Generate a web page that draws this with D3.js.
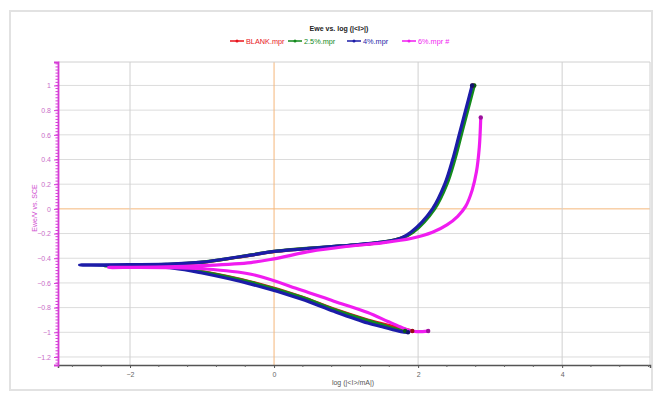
<!DOCTYPE html>
<html>
<head>
<meta charset="utf-8">
<script src="https://cdn.jsdelivr.net/npm/d3@7"></script>
<style>
  body { margin: 0; background: #fff; }
  svg { font-family: "Liberation Sans", Arial, sans-serif; }
</style>
</head>
<body>
<svg id="chart" width="659" height="394"></svg>
<script>
// legend labels and colours
const seriesNames = ['BLANK.mpr', '2.5%.mpr', '4%.mpr', '6%.mpr #'];
const seriesColors = ['#e8141c', '#138a1c', '#1c1ca8', '#f01cf0'];

// [log |I|, Ewe], scan order: cathodic end -> Ecorr -> anodic end
const blank = [
  [1.92, -0.99], [1.75, -0.965], [1.6, -0.945], [1.3, -0.9], [0.83, -0.812], [0.375, -0.712],
  [-0.32, -0.592], [-1.0, -0.508], [-1.4, -0.474], [-1.8, -0.462], [-1.4, -0.452],
  [-1.0, -0.434], [-0.5, -0.392], [0.0, -0.347], [0.93, -0.302], [1.5, -0.272],
  [1.77, -0.237], [1.92, -0.19], [2.21, 0.0], [2.38, 0.2], [2.49, 0.4], [2.58, 0.6],
  [2.67, 0.8], [2.76, 1.0]
];
const pct25 = [
  [1.82, -0.99], [1.7, -0.975], [1.5, -0.94], [1.3, -0.905], [0.83, -0.815], [0.375, -0.715],
  [-0.32, -0.595], [-1.0, -0.51], [-1.4, -0.475], [-1.9, -0.462], [-2.35, -0.462], [-1.9, -0.455],
  [-1.4, -0.448], [-1.0, -0.432], [-0.5, -0.39], [0.0, -0.345], [0.93, -0.3], [1.5, -0.27],
  [1.78, -0.235], [1.93, -0.19], [2.23, 0.0], [2.4, 0.2], [2.51, 0.4], [2.6, 0.6],
  [2.69, 0.8], [2.78, 1.0]
];
const pct4 = [
  [1.86, -1.0], [1.76, -0.995], [1.5, -0.955], [1.3, -0.925], [0.83, -0.83], [0.375, -0.73],
  [-0.32, -0.61], [-1.0, -0.52], [-1.4, -0.48], [-2.0, -0.46], [-2.7, -0.455], [-2.0, -0.452],
  [-1.5, -0.448], [-1.0, -0.432], [-0.5, -0.39], [-0.32, -0.375], [0.0, -0.345], [0.93, -0.3],
  [1.5, -0.27], [1.76, -0.237], [1.9, -0.19], [2.2, 0.0], [2.37, 0.2], [2.48, 0.4],
  [2.57, 0.6], [2.66, 0.8], [2.75, 1.0]
];
const pct6 = [
  [2.14, -0.99], [1.98, -0.995], [1.88, -0.985], [1.75, -0.955], [1.58, -0.912], [1.3, -0.84],
  [0.83, -0.748], [0.375, -0.657], [-0.32, -0.53], [-1.0, -0.485], [-1.5, -0.476], [-2.3, -0.475],
  [-1.5, -0.47], [-1.0, -0.46], [-0.32, -0.435], [0.0, -0.405], [0.5, -0.345], [1.0, -0.305],
  [1.5, -0.275], [1.9, -0.24], [2.2, -0.19], [2.4, -0.13], [2.55, -0.06], [2.66, 0.02],
  [2.75, 0.15], [2.81, 0.3], [2.85, 0.5], [2.87, 0.74]
];
const allSeries = [blank, pct25, pct4, pct6];

const xTicks = [-2, 0, 2, 4];
const yTicks = [-1.2, -1, -0.8, -0.6, -0.4, -0.2, 0, 0.2, 0.4, 0.6, 0.8, 1];

const svg = d3.select('#chart');
const plotL = 58, plotR = 650, plotT = 62, plotB = 365;

const x = d3.scaleLinear().domain([-3, 5.22]).range([plotL, plotR]);
const y = d3.scaleLinear().domain([-1.265, 1.19]).range([plotB, plotT]);

// outer frame
svg.append('rect')
  .attr('x', 10).attr('y', 11).attr('width', 642).attr('height', 379)
  .attr('fill', 'none').attr('stroke', '#e2e2e2').attr('stroke-width', 2);

// grid
svg.append('g').selectAll('line').data(yTicks).join('line')
  .attr('x1', plotL).attr('x2', plotR)
  .attr('y1', d => y(d)).attr('y2', d => y(d))
  .attr('stroke', d => d === 0 ? '#f5b77a' : '#dcdcdc').attr('stroke-width', 1);
svg.append('g').selectAll('line').data(xTicks).join('line')
  .attr('x1', d => x(d)).attr('x2', d => x(d))
  .attr('y1', plotT).attr('y2', plotB)
  .attr('stroke', d => d === 0 ? '#f5b77a' : '#d0d0d0').attr('stroke-width', 1);
// plot border top / right
svg.append('path')
  .attr('d', `M${plotL},${plotT}H${plotR}V${plotB}`)
  .attr('fill', 'none').attr('stroke', '#d0d0d0');

// curves
const line = d3.line()
  .x(d => x(d[0])).y(d => y(d[1]))
  .curve(d3.curveCatmullRom.alpha(0.5));
svg.append('g').selectAll('path').data(allSeries).join('path')
  .attr('d', line)
  .attr('fill', 'none')
  .attr('stroke', (d, i) => seriesColors[i])
  .attr('stroke-width', 3.2)
  .attr('stroke-linejoin', 'round').attr('stroke-linecap', 'round');
// end markers
svg.append('g').selectAll('circle')
  .data(allSeries.flatMap((s, i) => [[s[0], i], [s[s.length - 1], i]]))
  .join('circle')
  .attr('cx', d => x(d[0][0])).attr('cy', d => y(d[0][1])).attr('r', 2.2)
  .attr('fill', d => d3.color(seriesColors[d[1]]).darker(1.2));

// x axis
const xAxis = d3.axisBottom(x).tickValues(xTicks).tickSize(3).tickFormat(d3.format('d'));
const gx = svg.append('g').attr('transform', `translate(0,${plotB})`).call(xAxis);
gx.select('.domain').attr('stroke', '#555').attr('stroke-width', 1.5);
gx.selectAll('.tick line').attr('stroke', '#555');
gx.selectAll('text').attr('fill', '#666').attr('font-size', 7).attr('dy', '0.9em');
const xMinor = d3.range(-2.8, 5.21, 0.4).filter(v => !xTicks.some(t => Math.abs(t - v) < 1e-6));
gx.append('g').selectAll('line').data(xMinor).join('line')
  .attr('x1', d => x(d)).attr('x2', d => x(d)).attr('y1', 0).attr('y2', 2)
  .attr('stroke', '#666');

// y axis
const yAxis = d3.axisLeft(y).tickValues(yTicks).tickSize(4).tickFormat(d => d3.format('')(+d.toFixed(1)));
const gy = svg.append('g').attr('transform', `translate(${plotL},0)`).call(yAxis);
gy.select('.domain').attr('stroke', '#d63cd6').attr('stroke-width', 1.8);
gy.selectAll('.tick line').attr('stroke', '#d63cd6');
gy.selectAll('text').attr('fill', '#c86ec8').attr('font-size', 7);
const yMinor = d3.range(-1.25, 1.19, 0.025);
gy.append('g').selectAll('line').data(yMinor).join('line')
  .attr('x1', -2.5).attr('x2', 0.8).attr('y1', d => y(d)).attr('y2', d => y(d))
  .attr('stroke', '#d63cd6').attr('stroke-width', 1);

// labels
svg.append('text').attr('x', 353).attr('y', 385).attr('text-anchor', 'middle')
  .attr('font-size', 7).attr('fill', '#555').text('log (|<I>/mA|)');
svg.append('text').attr('transform', 'translate(37,208) rotate(-90)')
  .attr('text-anchor', 'middle').attr('font-size', 7).attr('fill', '#d050d0')
  .text('Ewe/V vs. SCE');
svg.append('text').attr('x', 339).attr('y', 31).attr('text-anchor', 'middle')
  .attr('font-size', 7).attr('font-weight', 'bold').attr('fill', '#222')
  .text('Ewe vs. log (|<I>|)');

// legend
const legendX = [230, 288, 347, 402];
const lg = svg.append('g').selectAll('g').data(seriesNames).join('g')
  .attr('transform', (d, i) => `translate(${legendX[i]},41)`);
lg.append('line').attr('x1', 0).attr('x2', 14).attr('y1', 0).attr('y2', 0)
  .attr('stroke', (d, i) => seriesColors[i]).attr('stroke-width', 1.5);
lg.append('circle').attr('cx', 7).attr('cy', 0).attr('r', 1.5)
  .attr('fill', (d, i) => seriesColors[i]);
lg.append('text').attr('x', 16).attr('y', 2.5).attr('font-size', 7.3)
  .attr('fill', (d, i) => seriesColors[i]).text(d => d);
</script>
</body>
</html>
